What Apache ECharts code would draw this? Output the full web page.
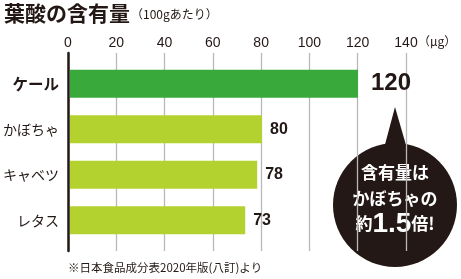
<!DOCTYPE html>
<html>
<head>
<meta charset="utf-8">
<script src="https://cdn.jsdelivr.net/npm/echarts@6/dist/echarts.min.js"></script>
<style>
html,body{margin:0;padding:0;background:#fff;}
#c{width:461px;height:279px;}
</style>
</head>
<body>
<div id="c"></div>
<script>
var categories = ['ケール', 'かぼちゃ', 'キャベツ', 'レタス'];
var values = [120, 80, 78, 73];
var tickMin = 0, tickMax = 140, tickStep = 20;

var INK = '#231815';
var FONT = '"Noto Sans CJK JP", "Noto Sans", sans-serif';
var NUMFONT = '"Liberation Sans", Arial, sans-serif';
var barColors = ['#3aa93b', '#b4d22f', '#b4d22f', '#b4d22f'];

var chart = echarts.init(document.getElementById('c'), null, {renderer: 'canvas'});

var barData = values.map(function (v, i) {
  var big = i === 0;
  return {
    value: v,
    itemStyle: {color: barColors[i]},
    label: {
      show: true,
      position: 'right',
      distance: big ? 13 : 8,
      formatter: '{c}',
      color: INK,
      fontFamily: NUMFONT,
      fontWeight: 'bold',
      fontSize: big ? 24 : 16
    }
  };
});

chart.setOption({
  animation: false,
  backgroundColor: '#fff',
  grid: [
    {left: 68, right: 55, top: 53, height: 198},
    {left: 68, right: 55, top: 61, height: 182}
  ],
  xAxis: [
    {
      gridIndex: 0, type: 'value', position: 'top',
      min: tickMin, max: tickMax, interval: tickStep,
      axisLine: {show: false}, axisTick: {show: false},
      axisLabel: {color: INK, fontFamily: NUMFONT, fontSize: 14, margin: 3},
      splitLine: {show: true, lineStyle: {color: '#b8b8b8', width: 1.3}}
    },
    {
      gridIndex: 1, type: 'value', min: tickMin, max: tickMax, interval: tickStep,
      show: false
    }
  ],
  yAxis: [
    {
      gridIndex: 0, type: 'value', min: 0, max: 1,
      axisLine: {show: true, onZero: false, lineStyle: {color: INK, width: 2.5}},
      axisTick: {show: false}, axisLabel: {show: false}, splitLine: {show: false}
    },
    {
      gridIndex: 1, type: 'category', data: categories, inverse: true,
      axisLine: {show: false}, axisTick: {show: false},
      axisLabel: {
        margin: 11, color: INK, fontFamily: FONT, fontSize: 14,
        formatter: function (v, i) { return i === 0 ? '{b|' + v + '}' : v; },
        rich: {b: {fontWeight: 'bold', fontSize: 15.5, color: INK, fontFamily: FONT}}
      }
    }
  ],
  series: [
    {
      type: 'bar', xAxisIndex: 1, yAxisIndex: 1,
      data: barData, barWidth: 28, silent: true
    }
  ],
  graphic: [
    {type: 'text', left: 4, top: 3, style: {text: '葉酸の含有量', fill: INK, font: 'bold 21px ' + FONT}},
    {type: 'text', left: 131, top: 8, style: {text: '（100gあたり）', fill: INK, font: '12px ' + FONT}},
    {type: 'text', left: 418, top: 35, style: {text: '（μg）', fill: INK, font: '12px ' + FONT}},
    {type: 'text', left: 68, top: 262, style: {text: '※日本食品成分表2020年版(八訂)より', fill: INK, font: '11.5px ' + FONT}},
    {type: 'polygon', shape: {points: [[395, 107], [383, 152], [408, 152]]}, style: {fill: INK}},
    {type: 'circle', shape: {cx: 395, cy: 205, r: 62}, style: {fill: INK}},
    {type: 'text', x: 395, y: 173, style: {text: '含有量は', fill: '#fff', font: 'bold 17px ' + FONT, align: 'center', verticalAlign: 'middle'}},
    {type: 'text', x: 395, y: 199, style: {text: 'かぼちゃの', fill: '#fff', font: 'bold 17px ' + FONT, align: 'center', verticalAlign: 'middle'}},
    {type: 'text', x: 395, y: 224, style: {
      text: '{a|約}{n|1.5}{a|倍!}', align: 'center', verticalAlign: 'middle',
      rich: {
        a: {fill: '#fff', fontFamily: FONT, fontWeight: 'bold', fontSize: 17},
        n: {fill: '#fff', fontFamily: NUMFONT, fontWeight: 'bold', fontSize: 28}
      }
    }}
  ]
});
</script>
</body>
</html>
